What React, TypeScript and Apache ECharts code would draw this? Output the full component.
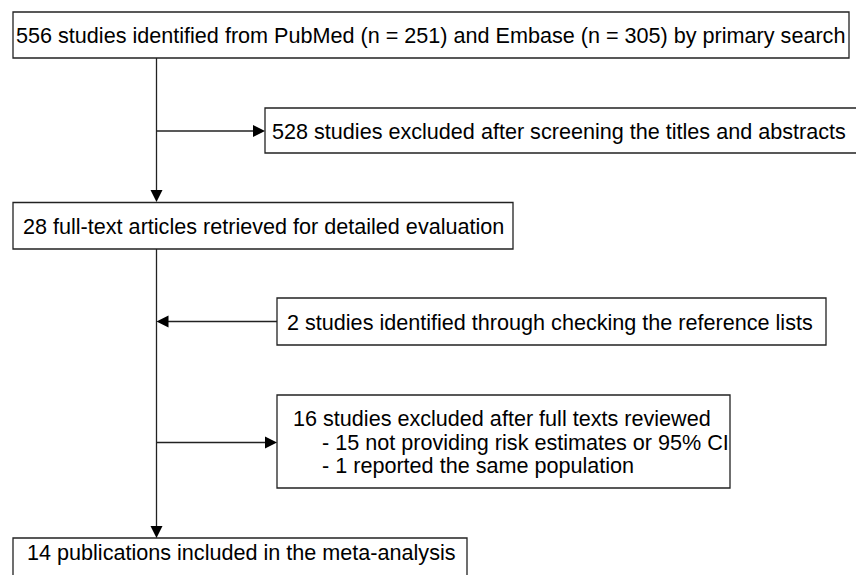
import React, { useEffect, useRef } from "react";
import * as echarts from "echarts";

// Study counts in the flow
const searchCounts = [556, 251, 305]; // total, PubMed, Embase
const excludedScreen = [528];
const fullText = [28];
const refList = [2];
const excludedFull = [16, 15, 1]; // total, no estimates, same population
const included = [14];

const boxTexts = [
  `${searchCounts[0]} studies identified from PubMed (n = ${searchCounts[1]}) and Embase (n = ${searchCounts[2]}) by primary search`,
  `${excludedScreen[0]} studies excluded after screening the titles and abstracts`,
  `${fullText[0]} full-text articles retrieved for detailed evaluation`,
  `${refList[0]} studies identified through checking the reference lists`,
  `${excludedFull[0]} studies excluded after full texts reviewed`,
  `- ${excludedFull[1]} not providing risk estimates or 95% CI`,
  `- ${excludedFull[2]} reported the same population`,
  `${included[0]} publications included in the meta-analysis`,
];

const FONT = "'Liberation Sans', Arial, sans-serif";
const STROKE = "#222";
const FS = 21.6;

function box(x: number, y: number, w: number, h: number) {
  return {
    type: "rect",
    shape: { x, y, width: w, height: h },
    style: { fill: "#fff", stroke: STROKE, lineWidth: 1.3 },
    z: 1,
  };
}
function label(text: string, x: number, y: number) {
  return {
    type: "text",
    x,
    y,
    z: 3,
    style: {
      text,
      fill: "#000",
      font: `${FS}px ${FONT}`,
      textVerticalAlign: "middle",
      textAlign: "left",
    },
  };
}
function line(x1: number, y1: number, x2: number, y2: number) {
  return {
    type: "line",
    shape: { x1, y1, x2, y2 },
    style: { stroke: STROKE, lineWidth: 1.3 },
    z: 2,
  };
}
function arrowHead(tx: number, ty: number, dir: "down" | "left" | "right") {
  let pts: number[][];
  if (dir === "down") pts = [[tx, ty], [tx - 6, ty - 12], [tx + 6, ty - 12]];
  else if (dir === "right") pts = [[tx, ty], [tx - 12, ty - 6], [tx - 12, ty + 6]];
  else pts = [[tx, ty], [tx + 12, ty - 6], [tx + 12, ty + 6]];
  return { type: "polygon", shape: { points: pts }, style: { fill: "#000" }, z: 4 };
}

export default function App() {
  const ref = useRef<HTMLDivElement>(null);
  useEffect(() => {
    if (!ref.current) return;
    const chart = echarts.init(ref.current, null, { renderer: "svg" });
    const vx = 156.5;
    const elements: any[] = [
      line(vx, 58, vx, 190),
      arrowHead(vx, 202, "down"),
      line(vx, 131, 254, 131),
      arrowHead(265, 131, "right"),
      line(vx, 249, vx, 526),
      arrowHead(vx, 538, "down"),
      line(168, 321.5, 277, 321.5),
      arrowHead(vx, 321.5, "left"),
      line(vx, 442.5, 266, 442.5),
      arrowHead(277, 442.5, "right"),
      box(13, 12, 836, 46),
      label(boxTexts[0], 16, 35),
      box(265, 108, 600, 45),
      label(boxTexts[1], 272, 131),
      box(13, 202.5, 500, 46.5),
      label(boxTexts[2], 23, 226.5),
      box(277, 298, 549, 47),
      label(boxTexts[3], 287, 322.5),
      box(277, 395, 453, 93),
      label(boxTexts[4], 293, 418.5),
      label(boxTexts[5], 322, 442.5),
      label(boxTexts[6], 322, 465.5),
      box(13, 538, 454, 60),
      label(boxTexts[7], 27, 552.5),
    ];
    chart.setOption({
      animation: false,
      backgroundColor: "#fff",
      graphic: { elements },
    });
    return () => chart.dispose();
  }, []);
  return (
    <div
      ref={ref}
      style={{ position: "fixed", left: 0, top: 0, width: 856, height: 575, background: "#fff" }}
    />
  );
}
